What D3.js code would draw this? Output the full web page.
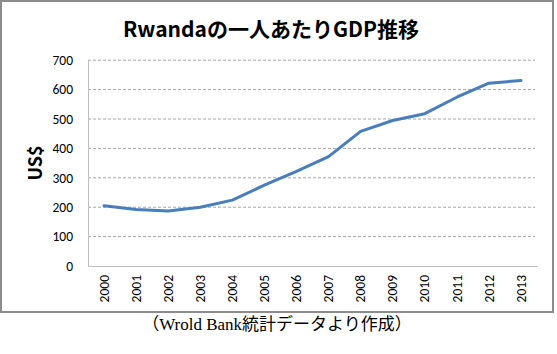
<!DOCTYPE html>
<html><head><meta charset="utf-8">
<script src="https://cdn.jsdelivr.net/npm/d3@7"></script>
<style>html,body{margin:0;padding:0;background:#fff;}svg{display:block;}</style>
</head><body>
<svg id="chart" width="557" height="354"></svg>
<script>
const years = ["2000","2001","2002","2003","2004","2005","2006","2007","2008","2009","2010","2011","2012","2013"];
const gdpPerCapita = [205, 192, 187, 200, 224, 275, 322, 372, 458, 495, 518, 574, 622, 631];
const yTicks = [0, 100, 200, 300, 400, 500, 600, 700];
const titleText = "Rwandaの一人あたりGDP推移";
const yLabel = "US$";
const captionText = "（Wrold Bank統計データより作成）";

const svg = d3.select("#chart");
const m = {left: 88, right: 537, top: 60.2, bottom: 266};

svg.append("rect").attr("x", 1).attr("y", 1).attr("width", 552).attr("height", 311)
  .attr("fill", "#fff").attr("stroke", "#8c8c8c").attr("stroke-width", 2);

const x = d3.scaleBand().domain(years).range([m.left, m.right]);
const y = d3.scaleLinear().domain([0, 700]).range([m.bottom, m.top]);

// gridlines
svg.append("g").selectAll("line").data(yTicks.filter(d => d > 0)).join("line")
  .attr("x1", m.left).attr("x2", m.right - 2)
  .attr("y1", d => y(d)).attr("y2", d => y(d))
  .attr("stroke", "#a6a6a6").attr("stroke-width", 1).attr("stroke-dasharray", "3,2");

// y axis
const yAxis = d3.axisLeft(y).tickValues(yTicks).tickSize(0).tickPadding(15);
const gy = svg.append("g").attr("transform", `translate(${m.left},0)`).call(yAxis);
gy.select(".domain").attr("stroke", "#bfbfbf").attr("stroke-width", 1);
gy.selectAll("text").attr("font-family", "Carlito, 'Open Sans', 'Liberation Sans', sans-serif")
  .attr("font-size", 13.5).attr("fill", "#000");

// x axis
const xAxis = d3.axisBottom(x).tickSize(0).tickPadding(0);
const gx = svg.append("g").attr("transform", `translate(0,${m.bottom})`).call(xAxis);
gx.select(".domain").attr("stroke", "#bfbfbf").attr("stroke-width", 1);
gx.selectAll("text")
  .attr("font-family", "Carlito, 'Open Sans', 'Liberation Sans', sans-serif")
  .attr("font-size", 13.5).attr("fill", "#000")
  .attr("text-anchor", "end").attr("dy", "0.35em")
  .attr("transform", "translate(0,9) rotate(-90)")
  .attr("x", 0).attr("y", 0);

// line
const line = d3.line().x((d, i) => x(years[i]) + x.bandwidth() / 2).y(d => y(d));
svg.append("path").datum(gdpPerCapita).attr("d", line)
  .attr("fill", "none").attr("stroke", "#4a7ebb").attr("stroke-width", 3)
  .attr("stroke-linejoin", "round").attr("stroke-linecap", "round");

// title
svg.append("text").attr("x", 271).attr("y", 37).attr("text-anchor", "middle")
  .attr("font-family", "'Noto Sans CJK JP', sans-serif").attr("font-weight", "bold")
  .attr("font-size", 21).attr("fill", "#000").text(titleText);

// y label
svg.append("text").attr("transform", "translate(42,163) rotate(-90)").attr("text-anchor", "middle")
  .attr("font-family", "'Noto Sans CJK JP', sans-serif").attr("font-weight", "bold")
  .attr("font-size", 18).attr("fill", "#000").text(yLabel);

// caption
svg.append("text").attr("x", 277).attr("y", 330).attr("text-anchor", "middle")
  .attr("font-family", "'Liberation Serif', 'DejaVu Serif', 'Noto Sans CJK JP', serif")
  .attr("font-size", 17).attr("fill", "#000").text(captionText);
</script>
</body></html>
